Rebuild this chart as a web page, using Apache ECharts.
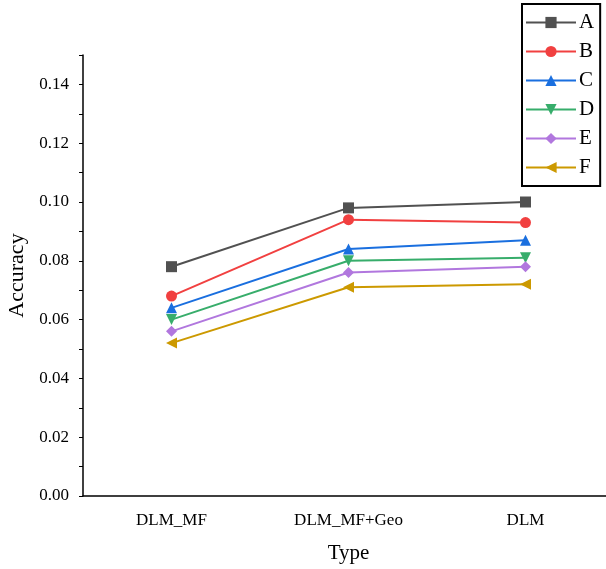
<!DOCTYPE html>
<html>
<head>
<meta charset="utf-8">
<script src="https://cdn.jsdelivr.net/npm/echarts@6/dist/echarts.min.js"></script>
<style>
  html, body { margin: 0; padding: 0; background: #fff; }
  #main { width: 606px; height: 569px; }
</style>
</head>
<body>
<div id="main"></div>
<script>
// categories and values
const types = ["DLM_MF", "DLM_MF+Geo", "DLM"];
const seriesNames = ["A", "B", "C", "D", "E", "F"];
const valuesA = [0.078, 0.098, 0.100];
const valuesB = [0.068, 0.094, 0.093];
const valuesC = [0.064, 0.084, 0.087];
const valuesD = [0.060, 0.080, 0.081];
const valuesE = [0.056, 0.076, 0.078];
const valuesF = [0.052, 0.071, 0.072];

const colors = ["#515151", "#F14040", "#1A6FDF", "#37AD6B", "#B177DE", "#CC9900"];
const symbols = [
  "rect",
  "circle",
  "path://M5,0 L10,10 L0,10 Z",
  "path://M0,0 L10,0 L5,10 Z",
  "path://M5,0 L10,5 L5,10 L0,5 Z",
  "path://M0,5 L10,0 L10,10 Z"
];
const allValues = [valuesA, valuesB, valuesC, valuesD, valuesE, valuesF];

const font = "'Liberation Serif', 'Times New Roman', serif";

const chartDom = document.getElementById("main");
const myChart = echarts.init(chartDom);

const series = seriesNames.map(function (name, i) {
  return {
    name: name,
    type: "line",
    xAxisIndex: 0,
    data: allValues[i],
    symbol: symbols[i],
    symbolSize: 11,
    lineStyle: { color: colors[i], width: 2 },
    itemStyle: { color: colors[i] },
    animation: false
  };
});

const option = {
  animation: false,
  grid: { left: 83, width: 531, top: 55, bottom: 73, outerBoundsMode: "none", containLabel: false },
  legend: {
    orient: "vertical",
    left: 522,
    top: 4,
    padding: [8, 6, 8, 3],
    itemGap: 8,
    itemWidth: 50,
    itemHeight: 14,
    borderColor: "#000",
    borderWidth: 2,
    data: seriesNames,
    textStyle: { fontFamily: font, fontSize: 21, color: "#000", lineHeight: 20, padding: [0, 0, 0, -2] }
  },
  xAxis: [
    {
      type: "category",
      data: types,
      name: "Type",
      nameLocation: "middle",
      nameGap: 47,
      nameTextStyle: { fontFamily: font, fontSize: 21, color: "#000" },
      axisLine: { lineStyle: { color: "#000", width: 1.5 } },
      axisTick: { alignWithLabel: true, length: 6, lineStyle: { color: "#000" } },
      axisLabel: { fontFamily: font, fontSize: 17, color: "#000", margin: 16 },
      splitLine: { show: false }
    },
    {
      type: "category",
      data: types,
      position: "bottom",
      axisLine: { show: false },
      axisTick: { length: 3, lineStyle: { color: "#000" } },
      axisLabel: { show: false },
      splitLine: { show: false }
    }
  ],
  yAxis: {
    type: "value",
    min: 0,
    max: 0.15,
    interval: 0.01,
    name: "Accuracy",
    nameLocation: "middle",
    nameGap: 47,
    nameTextStyle: { fontFamily: font, fontSize: 22, color: "#000" },
    axisLine: { show: true, lineStyle: { color: "#000", width: 1.5 } },
    axisTick: { show: true, length: 4, lineStyle: { color: "#000" } },
    axisLabel: {
      fontFamily: font,
      fontSize: 17,
      color: "#000",
      margin: 14,
      formatter: function (v) {
        const k = Math.round(v * 100);
        return (k % 2 === 0 && k < 15) ? v.toFixed(2) : "";
      }
    },
    splitLine: { show: false }
  },
  series: series
};

myChart.setOption(option);
</script>
</body>
</html>
